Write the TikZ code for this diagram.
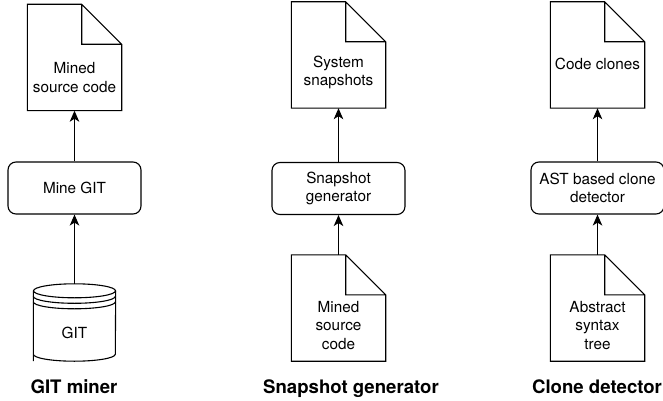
\documentclass[tikz,border=0pt]{standalone}
\usepackage{fontspec}
\setmainfont{TeX Gyre Heros}
\usetikzlibrary{arrows.meta}

\begin{document}
\begin{tikzpicture}[
	x=1pt, y=-1pt,
	>={Stealth[length=11pt,width=9.5pt,inset=3pt]},
	line/.style={line width=1.1pt},
	flow/.style={->,line width=1.1pt},
	doc/.style={rectangle, minimum width=94pt, minimum height=106pt, inner sep=0pt},
	txt/.style={font=\fontsize{15.3}{18.4}\selectfont, align=center, inner sep=0pt},
	process/.style={rectangle, draw, line width=1.1pt, rounded corners=8pt,
		minimum width=133pt, minimum height=52pt, align=center, inner sep=0pt,
		font=\fontsize{15.3}{18.4}\selectfont},
	db/.style={rectangle, minimum width=82pt, minimum height=77pt, inner sep=0pt},
	caption/.style={font=\fontsize{18.6}{22}\selectfont\bfseries, anchor=base, inner sep=0pt}
	]
	\useasboundingbox (0,0) rectangle (663,401);
	
	% GIT miner
	\node[doc] (minedsrc) at (74.5,57.5) {};
	\node[txt] (minedsrctxt) at (74.5,77.5) {Mined\\source code};
	\node[process] (minegit) at (74.5,188) {Mine GIT};
	\node[db] (gitdb) at (74.5,322.5) {};
	\node[txt] (gittxt) at (74.5,333) {GIT};
	\node[caption] (gitminer) at (74,393) {GIT miner};
	
	% Snapshot generator
	\node[doc] (snapshots) at (338.5,55) {};
	\node[txt] (snapshotstxt) at (338.5,72.5) {System\\snapshots};
	\node[process] (snapgen) at (338.5,188.5) {Snapshot\\generator};
	\node[doc] (minedsrcin) at (338.5,308) {};
	\node[txt] (minedsrcintxt) at (338.5,325.5) {Mined\\source\\code};
	\node[caption] (snapgenlbl) at (351,393) {Snapshot generator};
	
	% Clone detector
	\node[doc] (clones) at (597.5,55) {};
	\node[txt] (clonestxt) at (597.5,63.5) {Code clones};
	\node[process] (astdet) at (597.5,188) {AST based clone\\detector};
	\node[doc] (asttree) at (597.5,308) {};
	\node[txt] (asttreetxt) at (597.5,325.5) {Abstract\\syntax\\tree};
	\node[caption] (clonedetlbl) at (597,393) {Clone detector};
	
	% folded documents
	\foreach \d in {minedsrc, snapshots, clones, minedsrcin, asttree}
		\draw[line] (\d.south west) -- (\d.north west) -- ([xshift=-40pt]\d.north east)
			-- ([yshift=-40pt]\d.north east) -- (\d.south east) -- cycle
			([xshift=-40pt]\d.north east) |- ([yshift=-40pt]\d.north east);
	
	% database
	\draw[line] (gitdb.north west) ++(0,7) -- (gitdb.south west) ++(0,-7)
		arc[start angle=180, end angle=360, x radius=41pt, y radius=7pt]
		-- ([yshift=-7pt]gitdb.north east);
	\draw[line] ([yshift=-7pt]gitdb.north) ellipse[x radius=41pt, y radius=7pt];
	\foreach \dy in {5.5,11}
		\draw[line] ([yshift=-7pt-\dy pt]gitdb.north west)
			arc[start angle=180, end angle=360, x radius=41pt, y radius=7pt];
	
	\draw[flow] (gitdb.north) -- (minegit.south);
	\draw[flow] (minegit.north) -- (minedsrc.south);
	\draw[flow] (minedsrcin.north) -- (snapgen.south);
	\draw[flow] (snapgen.north) -- (snapshots.south);
	\draw[flow] (asttree.north) -- (astdet.south);
	\draw[flow] (astdet.north) -- (clones.south);
\end{tikzpicture}
\end{document}
